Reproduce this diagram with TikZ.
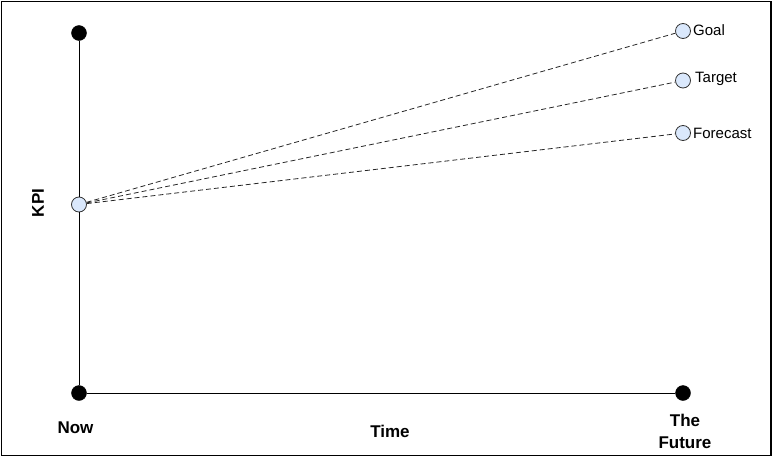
\documentclass[tikz,border=0pt]{standalone}
\usepackage{fontspec}
\setmainfont{Liberation Sans}
\begin{document}
\begin{tikzpicture}[x=1pt,y=-1pt,
  blackdot/.style={circle,fill=black,draw=black,minimum size=15pt,inner sep=0pt},
  kpidot/.style={circle,fill={rgb,255:red,218;green,232;blue,252},draw=black!80,line width=0.8pt,minimum size=15pt,inner sep=0pt},
  axis/.style={draw=black,line width=0.9pt},
  dashline/.style={draw=black!85,line width=0.8pt,dash pattern=on 5pt off 3pt},
  smalllbl/.style={anchor=west,inner sep=0pt,font=\fontsize{15}{18}\selectfont},
  biglbl/.style={inner sep=0pt,align=center,font=\fontsize{17}{22}\selectfont\bfseries}]
\useasboundingbox (0,0) rectangle (774,458);
\draw[line width=1.4pt] (1.2,1.2) rectangle (771,455.5);
\node[blackdot] (kpitop) at (79,33) {};
\node[blackdot] (origin) at (79,393) {};
\node[blackdot] (futuredot) at (683,393) {};
\node[kpidot] (start) at (79,204.5) {};
\node[kpidot] (goal) at (683,31) {};
\node[kpidot] (target) at (683,80.5) {};
\node[kpidot] (forecast) at (683,133) {};
\draw[axis] (kpitop) -- (start);
\draw[axis] (start) -- (origin);
\draw[axis] (origin) -- (futuredot);
\draw[dashline] (start) -- (goal);
\draw[dashline] (start) -- (target);
\draw[dashline] (start) -- (forecast);
\node[smalllbl] (goallbl) at (693,30) {Goal};
\node[smalllbl] (targetlbl) at (695,79) {Target};
\node[smalllbl] (forecastlbl) at (693,133) {Forecast};
\node[biglbl,rotate=90] (kpilbl) at (38,203) {KPI};
\node[biglbl] (nowlbl) at (75.5,427.5) {Now};
\node[biglbl] (timelbl) at (390,431) {Time};
\node[biglbl] (futurelbl) at (685,431.5) {The\\Future};
\end{tikzpicture}
\end{document}
